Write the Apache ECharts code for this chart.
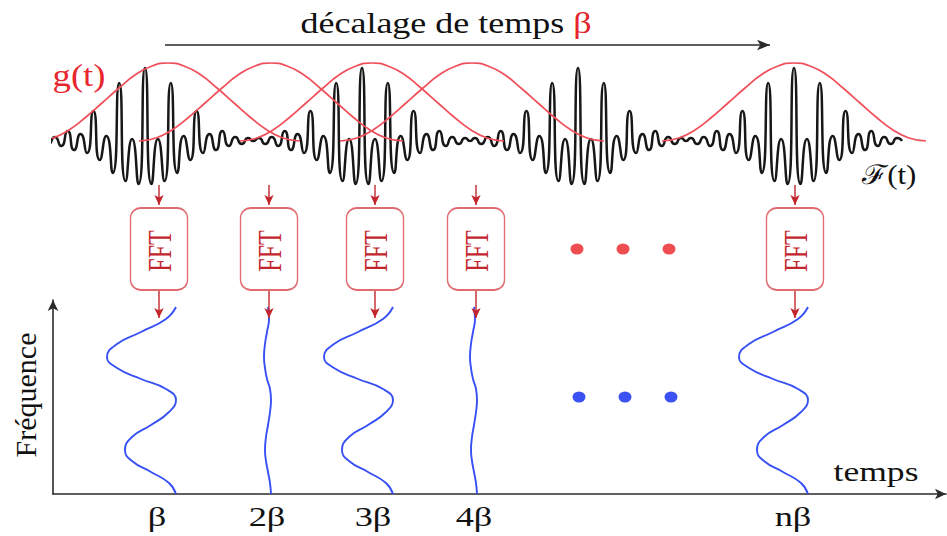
<!DOCTYPE html>
<html>
<head>
<meta charset="utf-8">
<script src="https://cdn.jsdelivr.net/npm/echarts@6/dist/echarts.min.js"></script>
<style>
html,body{margin:0;padding:0;background:#ffffff;}
#chart{width:947px;height:536px;}
</style>
</head>
<body>
<div id="chart"></div>
<script>
// ---------- data (diagram units: time along x, level along y) ----------
// one burst of the analysed signal F(t): [time offset from burst centre, level]
const burstCenters = [145, 362, 578, 794];
const burstProfile = [
  [-108,141],[-103.2,138],[-96.8,144],[-90.3,137],[-83.9,146],[-77.4,131],[-71,150],
  [-64.5,134],[-58.1,153],[-51.6,111],[-45.2,160],[-38.7,136],[-32.3,173],[-25.8,83],
  [-19.4,181],[-12.9,139],[-6.5,184],[0,68],[6.5,184],[12.9,139],[19.4,181],[25.8,83],
  [32.3,173],[38.7,136],[45.2,160],[51.6,111],[58.1,153],[64.5,134],[71,150],[77.4,131],
  [83.9,146],[90.3,137],[96.8,144],[103.2,138],[108,141]
];
// analysis windows g(t): [time offset from window centre, level]
const windowCenters = [168, 271, 372, 472, 794];
const windowProfile = [
  [-132,141],[-115,138],[-99,130],[-82,117],[-66,103],[-49,88],[-33,75],[-16,66],[0,63],
  [16,66],[33,75],[49,88],[66,103],[82,117],[99,130],[115,138],[132,141]
];
// FFT instants and ellipsis
const fftTimes = [159, 269, 375, 476, 795];
const tickLabels = ['β', '2β', '3β', '4β', 'nβ'];
const ellipsisTimes = [577, 623, 669];
// spectra along the frequency axis: [amplitude offset, frequency level]
const spectrumBase = [176, 271, 393, 477, 808];
const spectrumKind = ['strong', 'weak', 'strong', 'weak', 'strong'];
const strongSpectrum = [
  [0,307],[-10,319],[-35,332],[-59,344],[-69,357],[-59,368],[-35,379],[-10,389],[0,400],
  [-7,412],[-25,425],[-44,437],[-51,450],[-44,461],[-25,472],[-7,483],[0,494]
];
const weakSpectrum = [
  [-3,307],[-2,319],[-4,332],[-6,344],[-7,357],[-6,368],[-4,379],[-1,389],[0,400],
  [-1,412],[-3,425],[-5,437],[-6,450],[-5,461],[-3,472],[-1,483],[0,494]
];

// ---------- build series ----------
const signal = [];
burstCenters.forEach((c, i) => {
  burstProfile.forEach((p, j) => {
    if (i > 0 && j === 0) return;
    signal.push([c + p[0], p[1]]);
  });
});

const SERIF = "'Liberation Serif','Times New Roman','DejaVu Serif',serif";
const RED_LINE = '#f04f5a';
const DARK_RED = '#c3252c';

const series = [];
series.push({
  name: 'signal', type: 'line', data: signal, smooth: 0.7, symbol: 'none', clip: false, z: 2,
  lineStyle: { color: '#171717', width: 2.5 }
});
windowCenters.forEach(c => {
  series.push({
    type: 'line', data: windowProfile.map(p => [c + p[0], p[1]]), smooth: 0.5, symbol: 'none',
    clip: false, z: 3, lineStyle: { color: RED_LINE, width: 1.7 }
  });
});

// arrows: a shaft with an arrow head on its last point
function arrow(from, to, color, width, headSize, headRotate) {
  series.push({
    type: 'line', clip: false, z: 5, symbol: 'none', showSymbol: true, silent: true,
    data: [from, { value: to, symbol: 'arrow', symbolSize: headSize, symbolRotate: headRotate }],
    lineStyle: { color: color, width: width },
    itemStyle: { color: color }
  });
}
arrow([165, 45], [770, 45], '#2a2a2a', 1.6, [8, 13], -90);
fftTimes.forEach(t => {
  arrow([t, 185], [t, 205], DARK_RED, 1.4, [7, 10], 180);
  arrow([t, 291], [t, 318], DARK_RED, 1.4, [7, 10], 180);
});

series.push({
  name: 'fft', type: 'scatter', clip: false, z: 4,
  data: fftTimes.map(t => [t, 249]),
  symbol: 'path://M10,0 H47 A10,10 0 0 1 57,10 V72 A10,10 0 0 1 47,82 H10 A10,10 0 0 1 0,72 V10 A10,10 0 0 1 10,0 Z',
  symbolSize: [57, 82],
  itemStyle: { color: '#ffffff', borderColor: '#d8464e', borderWidth: 1.6 }
});
const dotSymbol = 'path://M0,5 A6,5 0 1 1 12,5 A6,5 0 1 1 0,5 Z';
series.push({
  type: 'scatter', clip: false, z: 4, data: ellipsisTimes.map(t => [t, 249]),
  symbol: dotSymbol, symbolSize: [13, 11], itemStyle: { color: '#ea2027' }
});
series.push({
  type: 'scatter', clip: false, z: 4, data: ellipsisTimes.map(t => [t + 2, 397]),
  symbol: dotSymbol, symbolSize: [13, 11], itemStyle: { color: '#0a25ee' }
});
spectrumBase.forEach((b, i) => {
  const prof = spectrumKind[i] === 'strong' ? strongSpectrum : weakSpectrum;
  series.push({
    type: 'line', data: prof.map(p => [b + p[0], p[1]]), smooth: 0.5, symbol: 'none',
    clip: false, z: 3, lineStyle: { color: '#3750f4', width: 1.9 }
  });
});

const axisCommon = {
  type: 'value', axisTick: { show: false }, axisLabel: { show: false }, splitLine: { show: false }
};
const option = {
  animation: false,
  backgroundColor: '#ffffff',
  grid: { left: 53, right: 1, top: 300, bottom: 42 },
  xAxis: Object.assign({}, axisCommon, {
    min: 53, max: 946,
    axisLine: { show: true, onZero: false, symbol: ['none', 'arrow'], symbolSize: [8, 11],
      lineStyle: { color: '#2b2b2b', width: 1.6 } }
  }),
  yAxis: Object.assign({}, axisCommon, {
    min: 300, max: 494, inverse: true,
    axisLine: { show: true, onZero: false, symbol: ['none', 'arrow'], symbolSize: [8, 11],
      lineStyle: { color: '#2b2b2b', width: 1.6 } }
  }),
  series: series
};

const chart = echarts.init(document.getElementById('chart'), null, { renderer: 'svg' });
chart.setOption(option);

// ---------- texts, anchored through the chart's scales ----------
const px = p => chart.convertToPixel({ gridIndex: 0 }, p);
const textMarks = [];
function addText(at, style, extra) {
  const q = px(at);
  textMarks.push(Object.assign({
    type: 'text', x: q[0], y: q[1], z: 10,
    style: Object.assign({ align: 'center', verticalAlign: 'middle', fill: '#111' }, style)
  }, extra || {}));
}
addText([446, 23], {
  text: '{a|décalage de temps }{b|β}',
  rich: {
    a: { fill: '#111', fontSize: 30, fontFamily: SERIF },
    b: { fill: '#e3222a', fontSize: 30, fontFamily: SERIF }
  }
}, { scaleX: 1.2 });
addText([79, 75], { text: 'g(t)', fill: '#e8262d', fontSize: 31, fontFamily: SERIF }, { scaleX: 1.18 });
addText([889, 175], { text: 'ℱ(t)', fill: '#111', fontSize: 27, fontFamily: SERIF }, { scaleX: 1.15 });
fftTimes.forEach(t => {
  addText([t, 251], { text: 'FFT', fill: DARK_RED, fontSize: 24, fontFamily: SERIF },
    { rotation: Math.PI / 2, scaleY: 1.4 });
});
addText([25, 395], { text: 'Fréquence', fill: '#111', fontSize: 30, fontFamily: SERIF },
  { rotation: Math.PI / 2 });
fftTimes.forEach((t, i) => {
  addText([t - 2, 517], { text: tickLabels[i], fill: '#111', fontSize: 28, fontFamily: SERIF }, { scaleX: 1.3 });
});
addText([876, 471], { text: 'temps', fill: '#111', fontSize: 28, fontFamily: SERIF }, { scaleX: 1.27 });
chart.setOption({ graphic: textMarks });
</script>
</body>
</html>
